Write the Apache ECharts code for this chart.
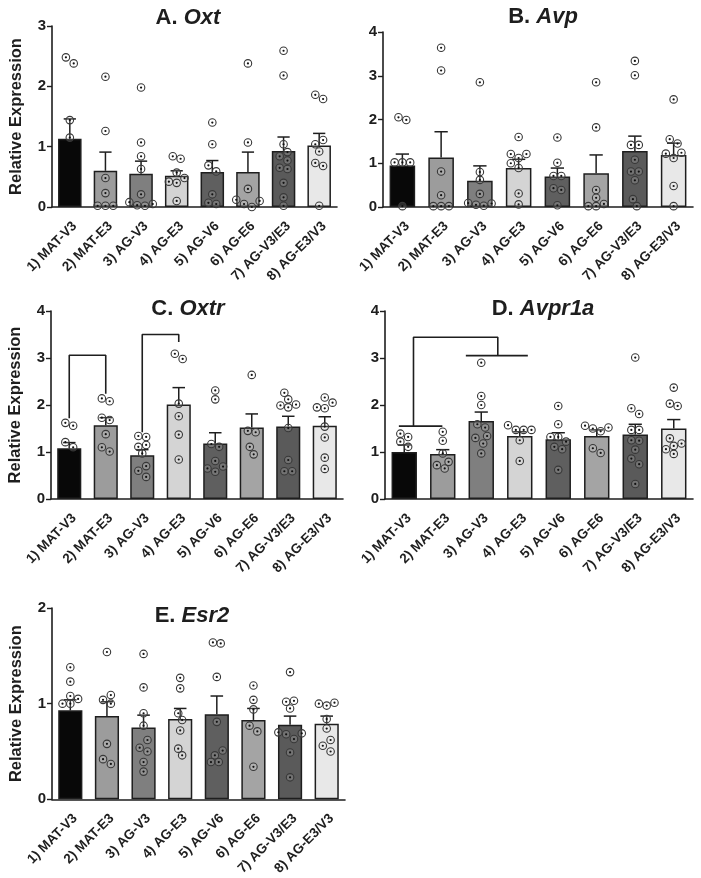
<!DOCTYPE html>
<html>
<head>
<meta charset="utf-8">
<script src="https://cdn.jsdelivr.net/npm/echarts@6/dist/echarts.min.js"></script>
<style>
html,body{margin:0;padding:0;background:#fff;}
#chart{width:701px;height:878px;}
</style>
</head>
<body>
<div id="chart"></div>
<script>
// ---------------- DATA ----------------
const categories = ['1) MAT-V3','2) MAT-E3','3) AG-V3','4) AG-E3','5) AG-V6','6) AG-E6','7) AG-V3/E3','8) AG-E3/V3'];

const oxtMean = [1.13,0.60,0.55,0.52,0.58,0.58,0.93,1.02];
const oxtSem  = [0.33,0.31,0.21,0.08,0.19,0.33,0.23,0.20];
const oxtPts = [
  [2.48,2.38,1.44,1.15],
  [2.16,1.26,0.48,0.23,0.02,0.02,0.02],
  [1.98,1.07,0.84,0.63,0.21,0.05,0.02,0.03,0.08],
  [0.84,0.80,0.57,0.42,0.40,0.48,0.10],
  [1.40,1.04,0.69,0.59,0.21,0.05,0.07],
  [2.38,1.07,0.30,0.10,0.05,0.12,0.00],
  [2.59,2.18,1.04,0.77,0.84,0.91,0.65,0.63,0.40,0.16,0.02],
  [1.79,1.86,1.11,1.04,0.92,0.73,0.68,0.02]
];

const avpMean = [0.95,1.13,0.60,0.89,0.70,0.77,1.28,1.19];
const avpSem  = [0.26,0.59,0.34,0.20,0.19,0.42,0.34,0.27];
const avpPts = [
  [2.05,1.99,1.02,1.02,1.02,0.02],
  [3.64,3.12,0.81,0.27,0.02,0.02,0.02],
  [2.85,0.62,0.80,0.30,0.08,0.03,0.05,0.09],
  [1.60,1.21,1.21,0.89,1.12,1.00,0.31,0.06],
  [1.59,1.01,0.71,0.71,0.43,0.39,0.04],
  [2.85,1.82,0.39,0.21,0.07,0.02,0.02],
  [3.34,3.01,1.42,1.42,1.08,0.81,0.81,0.61,0.18,0.02],
  [2.46,1.55,1.45,1.24,1.12,1.22,0.48,0.02]
];

const oxtrMean = [1.08,1.57,0.93,2.01,1.18,1.52,1.54,1.56];
const oxtrSem  = [0.12,0.16,0.12,0.36,0.23,0.29,0.22,0.19];
const oxtrPts = [
  [1.56,1.62,1.21,1.10],
  [2.14,2.08,1.73,1.68,1.38,1.01,1.10],
  [1.32,1.34,1.15,1.11,0.97,0.70,0.60,0.47],
  [2.98,3.09,2.03,1.76,1.37,0.84],
  [2.31,2.12,1.11,1.17,0.81,0.69,0.58,0.65],
  [2.64,1.45,1.42,1.11,0.95],
  [2.12,2.26,1.99,1.95,2.01,1.51,0.83,0.59,0.59],
  [2.05,2.16,1.93,1.95,1.54,1.31,0.88,0.64]
];

const avpr1aMean = [1.00,0.96,1.66,1.34,1.27,1.34,1.37,1.50];
const avpr1aSem  = [0.15,0.09,0.19,0.09,0.14,0.13,0.22,0.19];
const avpr1aPts = [
  [1.39,1.32,1.22,1.11],
  [1.43,1.24,0.97,0.79,0.65,0.72],
  [2.90,2.19,2.00,1.52,1.59,1.30,1.18,1.34,0.97],
  [1.47,1.47,1.47,1.57,1.25,0.81],
  [1.98,1.59,1.32,1.32,1.11,1.06,1.22,0.62],
  [1.56,1.50,1.44,1.52,0.98,1.08],
  [3.01,1.93,1.81,1.47,1.47,1.25,1.24,1.05,0.86,0.74,0.32],
  [2.37,1.98,2.03,1.29,1.13,1.18,0.96,1.06]
];

const esr2Mean = [0.93,0.87,0.75,0.84,0.89,0.83,0.78,0.79];
const esr2Sem  = [0.11,0.15,0.13,0.11,0.19,0.12,0.09,0.08];
const esr2Pts = [
  [1.38,1.23,1.08,1.05,1.00,1.00],
  [1.54,1.09,1.04,1.00,0.58,0.37,0.42],
  [1.52,1.17,0.90,0.77,0.62,0.50,0.54,0.39,0.29],
  [1.27,1.16,0.83,0.90,0.72,0.53,0.46],
  [1.63,1.64,1.28,0.81,0.51,0.46,0.39,0.39],
  [1.19,1.04,0.94,0.77,0.71,0.34],
  [1.33,1.02,1.03,0.95,0.69,0.63,0.68,0.70,0.49,0.23],
  [0.98,1.00,1.01,0.84,0.74,0.62,0.56,0.50]
];

// significance annotations (x in category-index units, y in data units)
const bracketC1 = [[0,1.72],[0,3.06],[1,3.06],[1,2.24]];
const bracketC2 = [[2,1.42],[2,3.50],[3,3.50],[3,3.34]];
const starsC = [[0.53,3.31],[2.52,3.70]];
const bracketD1 = [[-0.14,1.55],[0.99,1.55]];
const bracketD2 = [[1.60,3.05],[3.21,3.05]];
const bracketD3 = [[0.24,1.55],[0.24,3.44],[2.43,3.44],[2.43,3.05]];
const starsD = [[1.30,3.73]];

// ---------------- STYLE / LAYOUT ----------------
const FONT = 'Liberation Sans, Arial, sans-serif';
const barColors = ['#080808','#9c9c9c','#7f7f7f','#d4d4d4','#5f5f5f','#a4a4a4','#5a5a5a','#e8e8e8'];
const DARK = '#1e1e1e';

const panels = [
  {letter:'A. ', gene:'Oxt',    mean:oxtMean,    sem:oxtSem,    pts:oxtPts,    ymax:3, grid:{left:52, top:26, width:285, height:181}, title:[188,7],  yname:true},
  {letter:'B. ', gene:'Avp',    mean:avpMean,    sem:avpSem,    pts:avpPts,    ymax:4, grid:{left:383,top:32, width:310, height:175}, title:[543,6],  yname:false},
  {letter:'C. ', gene:'Oxtr',   mean:oxtrMean,   sem:oxtrSem,   pts:oxtrPts,   ymax:4, grid:{left:51, top:311,width:292, height:188}, title:[188,298],yname:true,
     brackets:[bracketC1,bracketC2], stars:starsC},
  {letter:'D. ', gene:'Avpr1a', mean:avpr1aMean, sem:avpr1aSem, pts:avpr1aPts, ymax:4, grid:{left:385,top:311,width:308, height:188}, title:[543,298],yname:false,
     brackets:[bracketD1,bracketD2,bracketD3], stars:starsD},
  {letter:'E. ', gene:'Esr2',   mean:esr2Mean,   sem:esr2Sem,   pts:esr2Pts,   ymax:2, grid:{left:52, top:608,width:293, height:192}, title:[192,605],yname:true}
];

// beeswarm layout (pixel-space collision avoidance, then centred)
function swarm(vals, pxPerY, pxPerX, d) {
  const idx = vals.map((v,i)=>i).sort((a,b)=>vals[a]-vals[b]);
  const out = new Array(vals.length);
  const clusters = [];
  let cur = [];
  idx.forEach((k,j)=>{
    if (j>0 && (vals[k]-vals[idx[j-1]])*pxPerY >= d) { clusters.push(cur); cur=[]; }
    cur.push(k);
  });
  if (cur.length) clusters.push(cur);
  clusters.forEach(cl=>{
    const pl = [];
    cl.forEach(k=>{
      const y = vals[k]*pxPerY;
      const cands = [0];
      for (let s=1; s<20; s++){ cands.push(-s*d/2, s*d/2); }
      for (const c of cands) {
        const ok = pl.every(p => Math.hypot(p.x-c, p.y-y) >= d*0.98);
        if (ok) { pl.push({k, x:c, y}); break; }
      }
    });
    const xs = pl.map(p=>p.x);
    const shift = (Math.min(...xs)+Math.max(...xs))/2;
    pl.forEach(p=>{ out[p.k] = (p.x-shift)/pxPerX; });
  });
  return out;
}

const option = {
  animation:false,
  backgroundColor:'#ffffff',
  title:[], grid:[], xAxis:[], yAxis:[], series:[]
};

panels.forEach((p,i)=>{
  option.grid.push(Object.assign({containLabel:false}, p.grid));
  option.title.push({
    text:'{n|'+p.letter+'}{i|'+p.gene+'}',
    left:p.title[0], top:p.title[1], textAlign:'center', padding:0,
    textStyle:{rich:{
      n:{fontFamily:FONT,fontWeight:'bold',fontSize:22,color:DARK},
      i:{fontFamily:FONT,fontWeight:'bold',fontStyle:'italic',fontSize:22,color:DARK}
    }}
  });
  const cx = 2*i, vx = 2*i+1;
  option.xAxis.push({
    type:'category', gridIndex:i, data:categories, boundaryGap:true,
    axisLine:{onZero:false,lineStyle:{color:DARK,width:1.6}},
    axisTick:{alignWithLabel:true,length:4,lineStyle:{color:DARK,width:1.4}},
    axisLabel:{interval:0,rotate:45,margin:12,verticalAlign:'top',color:DARK,fontFamily:FONT,fontWeight:'bold',fontSize:13.5}
  });
  option.xAxis.push({type:'value', gridIndex:i, min:-0.5, max:7.5, show:false});
  option.yAxis.push({
    type:'value', gridIndex:i, min:0, max:p.ymax, interval:1,
    name:p.yname?'Relative Expression':'', nameLocation:'middle', nameGap:27,
    nameTextStyle:{fontFamily:FONT,fontWeight:'bold',fontSize:16.5,color:DARK},
    axisLine:{show:true,onZero:false,lineStyle:{color:DARK,width:1.6}},
    axisTick:{show:true,length:5,lineStyle:{color:DARK,width:1.4}},
    splitLine:{show:false},
    axisLabel:{margin:6,color:DARK,fontFamily:FONT,fontWeight:'bold',fontSize:15}
  });
  option.series.push({
    type:'bar', xAxisIndex:cx, yAxisIndex:i, barWidth:'66%', z:2,
    data:p.mean.map((v,k)=>({value:v,itemStyle:{color:barColors[k]}})),
    itemStyle:{borderColor:DARK,borderWidth:1.5}
  });
  option.series.push({
    type:'custom', xAxisIndex:cx, yAxisIndex:i, z:3,
    data:p.mean.map((v,k)=>[k,v,p.sem[k]]),
    renderItem:function(params, api){
      const x=api.value(0), m=api.value(1), s=api.value(2);
      const a=api.coord([x,m]), b=api.coord([x,m+s]);
      const w=api.size([1,0])[0]*0.66*0.26;
      const st={stroke:DARK,lineWidth:1.5};
      return {type:'group',children:[
        {type:'line',shape:{x1:a[0],y1:a[1],x2:b[0],y2:b[1]},style:st},
        {type:'line',shape:{x1:b[0]-w,y1:b[1],x2:b[0]+w,y2:b[1]},style:st}
      ]};
    }
  });
  const pxPerY = p.grid.height/p.ymax, pxPerX = p.grid.width/8;
  const ptsData = [];
  p.pts.forEach((vals,g)=>{
    const offs = swarm(vals, pxPerY, pxPerX, 7.8);
    vals.forEach((v,k)=>ptsData.push([g+offs[k], v]));
  });
  option.series.push({
    type:'scatter', xAxisIndex:vx, yAxisIndex:i, z:4, symbol:'circle', symbolSize:7.5,
    data:ptsData, silent:true,
    itemStyle:{color:'rgba(255,255,255,0.15)',borderColor:'#383838',borderWidth:1.1,opacity:1}
  });
  option.series.push({
    type:'scatter', xAxisIndex:vx, yAxisIndex:i, z:5, symbol:'circle', symbolSize:2.2,
    data:ptsData, silent:true, itemStyle:{color:'#111',opacity:1}
  });
  (p.brackets||[]).forEach(br=>{
    option.series.push({
      type:'line', xAxisIndex:vx, yAxisIndex:i, z:6, data:br, symbol:'none', silent:true,
      lineStyle:{color:DARK,width:1.6}
    });
  });
  if (p.stars) {
    option.series.push({
      type:'scatter', xAxisIndex:vx, yAxisIndex:i, z:6, data:p.stars, symbol:'none', silent:true,
      label:{show:true,position:'inside',formatter:'*',offset:[0,5],fontFamily:FONT,fontWeight:'bold',fontSize:20,color:DARK}
    });
  }
});

const chart = echarts.init(document.getElementById('chart'), null, {renderer:'canvas'});
chart.setOption(option);
</script>
</body>
</html>
